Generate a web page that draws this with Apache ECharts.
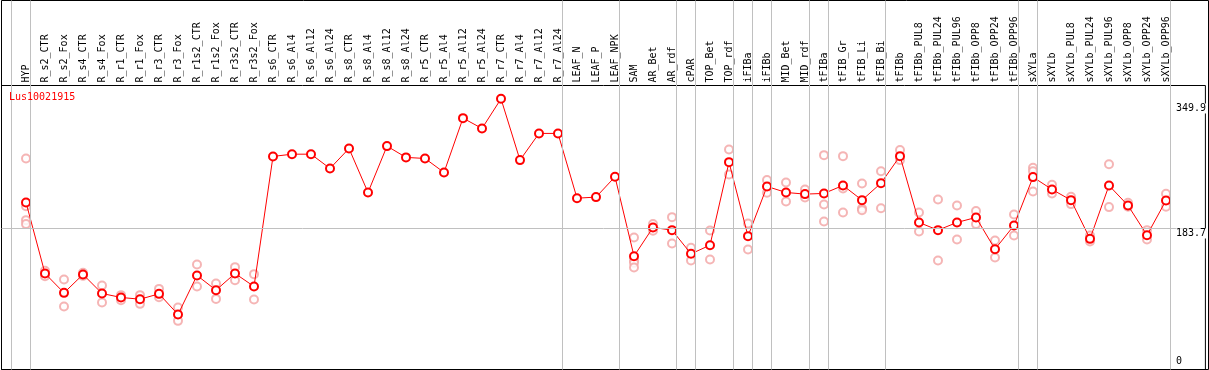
<!DOCTYPE html>
<html><head><meta charset="utf-8">
<script src="https://cdn.jsdelivr.net/npm/echarts@6/dist/echarts.min.js"></script>
<style>html,body{margin:0;padding:0;background:#fff}#c{width:1209px;height:370px}</style>
</head><body><div id="c"></div>
<script>
const geneId = 'Lus10021915';
const categories = [
  'HYP','R_s2_CTR','R_s2_Fox','R_s4_CTR','R_s4_Fox','R_r1_CTR','R_r1_Fox','R_r3_CTR','R_r3_Fox',
  'R_r1s2_CTR','R_r1s2_Fox','R_r3s2_CTR','R_r3s2_Fox','R_s6_CTR','R_s6_Al4','R_s6_Al12','R_s6_Al24',
  'R_s8_CTR','R_s8_Al4','R_s8_Al12','R_s8_Al24','R_r5_CTR','R_r5_Al4','R_r5_Al12','R_r5_Al24',
  'R_r7_CTR','R_r7_Al4','R_r7_Al12','R_r7_Al24','LEAF_N','LEAF_P','LEAF_NPK','SAM','AR_Bet','AR_rdf',
  'cPAR','TOP_Bet','TOP_rdf','iFIBa','iFIBb','MID_Bet','MID_rdf','tFIBa','tFIB_Gr','tFIB_Li','tFIB_Bi',
  'tFIBb','tFIBb_PUL8','tFIBb_PUL24','tFIBb_PUL96','tFIBb_OPP8','tFIBb_OPP24','tFIBb_OPP96',
  'sXYLa','sXYLb','sXYLb_PUL8','sXYLb_PUL24','sXYLb_PUL96','sXYLb_OPP8','sXYLb_OPP24','sXYLb_OPP96'
];
const means = [
  218.3, 123.9, 98.1, 122.6, 97.3, 92.0, 89.7, 96.8, 69.4, 121.3, 101.7, 123.9, 106.6,
  279.5, 282.5, 282.5, 263.5, 290.1, 231.6, 293.2, 278.2, 276.8, 258.2, 330.4, 316.7, 356.1, 274.6, 310.1, 310.1,
  224.0, 225.4, 252.4,
  146.9, 185.1, 181.5, 150.0, 161.5, 271.9, 173.5, 239.6, 231.6, 229.4, 230.3, 240.9, 221.4, 244.0, 279.9,
  191.7, 181.5, 191.7, 198.4, 156.2, 187.7,
  252.0, 235.6, 221.4, 169.9, 240.9, 214.3, 174.8, 221.0
];
const replicates = [
  [276.8, 213.4, 194.8, 189.5], [127.4, 120.3], [115.9, 80.0], [124.7, 120.7], [108.0, 85.4],
  [95.1, 88.4], [95.1, 83.5], [103.4, 92.4], [78.7, 60.9], [135.9, 106.6], [110.6, 90.1],
  [132.3, 115.0], [123.0, 89.3],
  [], [], [], [], [], [], [], [], [], [], [], [], [], [], [], [], [], [], [],
  [171.8, 141.6, 138.0, 131.9], [189.5, 180.6], [198.8, 163.8], [158.0, 141.2], [181.1, 142.5],
  [288.8, 255.5], [190.4, 155.8], [248.0, 231.1], [244.9, 219.6], [235.6, 225.0],
  [281.2, 215.7, 193.1], [279.9, 236.9, 205.0], [243.6, 210.3, 208.1], [259.9, 210.7], [287.9, 274.6],
  [205.0, 179.8], [222.3, 141.2], [214.3, 169.1], [206.8, 189.5], [167.8, 145.2], [202.4, 174.4],
  [264.3, 259.9, 232.9], [241.7, 230.3], [225.8, 216.1], [174.4, 166.5], [269.2, 212.1],
  [217.8, 212.5], [181.5, 169.1], [229.8, 212.5]
];
const yTickLabels = [0, 183.7, 349.9];
const refLineValue = 183.7;
const groupEnds = [-1, 0, 28, 31, 34, 35, 37, 38, 39, 41, 42, 45, 52, 53, 60];

const MONO = 'DejaVu Sans Mono';
const Y_MIN = -3.78, Y_MAX = 373.8;
const repPoints = [];
replicates.forEach((arr, i) => arr.forEach(v => repPoints.push([i, v])));

const labelBase = {inside: true, align: 'left', margin: 29.5, fontFamily: MONO, fontSize: 10, color: '#000'};

const chart = echarts.init(document.getElementById('c'), null, {renderer: 'canvas'});
chart.setOption({
  animation: false,
  title: {text: geneId, left: 9, top: 92.5, padding: 0,
    textStyle: {color: '#ff0000', fontFamily: MONO, fontSize: 10, fontWeight: 'normal'}},
  grid: [
    {left: 1.5, right: 0.5, top: 0.5, bottom: 0.5, show: true, borderColor: '#000', borderWidth: 1, backgroundColor: 'transparent'},
    {left: 1.5, right: 0.5, top: 85.5, bottom: 0.5, show: true, borderColor: '#000', borderWidth: 1, backgroundColor: 'transparent'},
    {left: 16.5, width: 1159, top: 85.5, bottom: 0.5}
  ],
  xAxis: [
    {gridIndex: 0, type: 'value', min: -1.2895, max: 62.2368, show: false},
    {gridIndex: 1, type: 'value', min: 0, max: 1, show: false},
    {gridIndex: 2, type: 'category', data: categories, position: 'top', boundaryGap: true,
      axisLine: {show: false}, axisTick: {show: false}, splitLine: {show: false},
      axisLabel: {interval: 0, rotate: 90, margin: 3, fontFamily: MONO, fontSize: 10, color: '#000', padding: [0, 0, 3, 0]}}
  ],
  yAxis: [
    {gridIndex: 0, type: 'value', min: 0, max: 1, show: false},
    {gridIndex: 1, type: 'value', min: Y_MIN, max: Y_MAX, position: 'right', z: 10,
      axisLine: {show: false}, axisTick: {show: false}, splitLine: {show: false},
      axisLabel: Object.assign({}, labelBase, {customValues: yTickLabels.filter(v => v !== 0), verticalAlign: 'top', backgroundColor: '#fff'})},
    {gridIndex: 1, type: 'value', min: Y_MIN, max: Y_MAX, position: 'right', z: 10,
      axisLine: {show: false}, axisTick: {show: false}, splitLine: {show: false},
      axisLabel: Object.assign({}, labelBase, {customValues: yTickLabels.filter(v => v === 0), verticalAlign: 'bottom'})},
    {gridIndex: 2, type: 'value', min: Y_MIN, max: Y_MAX, show: false}
  ],
  series: [
    {type: 'line', xAxisIndex: 0, yAxisIndex: 0, data: [], silent: true, z: 0,
      markLine: {symbol: 'none', silent: true, label: {show: false},
        lineStyle: {color: '#c0c0c0', width: 1, type: 'solid'},
        data: groupEnds.map(g => ({xAxis: g + 4.5 / 19}))}},
    {type: 'line', xAxisIndex: 1, yAxisIndex: 1, data: [], silent: true, z: 0,
      markLine: {symbol: 'none', silent: true, label: {show: false},
        lineStyle: {color: '#c0c0c0', width: 1, type: 'solid'},
        data: [{yAxis: refLineValue}]}},
    {type: 'scatter', xAxisIndex: 2, yAxisIndex: 3, data: repPoints, symbol: 'emptyCircle', symbolSize: 8,
      itemStyle: {color: '#f3a3a3', borderColor: '#f3a3a3', borderWidth: 1.1}, z: 3},
    {type: 'line', xAxisIndex: 2, yAxisIndex: 3, data: means, symbol: 'emptyCircle', symbolSize: 8, showAllSymbol: true,
      lineStyle: {color: '#ff0000', width: 1}, itemStyle: {color: '#ff0000', borderColor: '#ff0000', borderWidth: 1.1}, z: 4}
  ]
});
</script>
</body></html>
